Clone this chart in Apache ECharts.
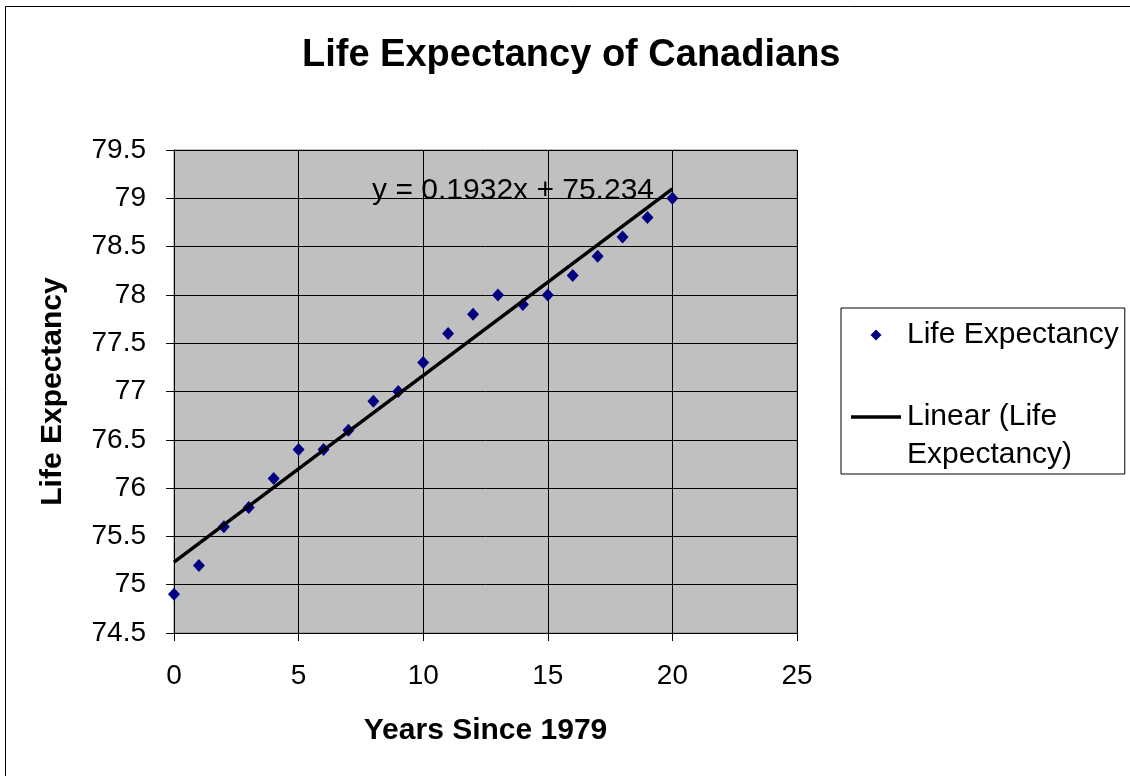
<!DOCTYPE html>
<html>
<head>
<meta charset="utf-8">
<script src="https://cdn.jsdelivr.net/npm/echarts@6/dist/echarts.min.js"></script>
<style>
html,body{margin:0;padding:0;background:#fff;}
#c{width:1130px;height:776px;}
</style>
</head>
<body>
<div id="c"></div>
<script>
// Data
const years = [0,1,2,3,4,5,6,7,8,9,10,11,12,13,14,15,16,17,18,19,20];
const lifeExpectancy = [74.9,75.2,75.6,75.8,76.1,76.4,76.4,76.6,76.9,77.0,77.3,77.6,77.8,78.0,77.9,78.0,78.2,78.4,78.6,78.8,79.0];
const trendSlope = 0.1932;
const trendIntercept = 75.234;
const trendRange = [0, 20];
const titleText = 'Life Expectancy of Canadians';
const xAxisTitle = 'Years Since 1979';
const yAxisTitle = 'Life Expectancy';
const seriesName = 'Life Expectancy';
const trendName = 'Linear (Life Expectancy)';
const equationText = 'y = 0.1932x + 75.234';
const equationAnchor = [7.95, 79.08];

const FONT = '"Liberation Sans", Arial, sans-serif';
const points = years.map((x, i) => [x, lifeExpectancy[i]]);
const trendPoints = trendRange.map(x => [x, trendSlope * x + trendIntercept]);

// legend icons: 50x12 boxes (degenerate end points keep the box size)
const diamondIcon = 'path://M0,6L0,6M19.5,6L25,0.5L30.5,6L25,11.5ZM50,6L50,6';
const lineIcon = 'path://M0,0L0,0M0,4.25L50,4.25L50,7.75L0,7.75ZM50,12L50,12';

const frame = {
  type: 'rect', silent: true, z: -10,
  shape: {x: 5.5, y: 6.5, width: 1300, height: 1000},
  style: {fill: 'none', stroke: '#000', lineWidth: 1}
};

const chart = echarts.init(document.getElementById('c'), null, {renderer: 'canvas'});
chart.setOption({
  animation: false,
  backgroundColor: '#ffffff',
  textStyle: {fontFamily: FONT},
  title: {
    text: titleText,
    left: 302, top: 37, padding: 0,
    textStyle: {fontFamily: FONT, fontSize: 38, fontWeight: 'bold', color: '#000'}
  },
  grid: {
    left: 174, top: 150, right: 333, bottom: 143,
    show: true, backgroundColor: '#c0c0c0', borderColor: '#808080', borderWidth: 1,
    containLabel: false
  },
  legend: {
    orient: 'vertical',
    left: 841, top: 308,
    padding: [8, 6, 0, 10],
    itemGap: 6,
    itemWidth: 50, itemHeight: 12,
    itemStyle: {borderWidth: 0},
    borderColor: '#000', borderWidth: 1,
    backgroundColor: '#fff',
    textStyle: {fontFamily: FONT, fontSize: 30, color: '#000', lineHeight: 38, padding: [0,0,0,1]},
    formatter: function (name) {
      return name === trendName ? '\nLinear (Life\nExpectancy)' : name;
    },
    data: [
      {name: seriesName, icon: diamondIcon},
      {name: trendName, icon: lineIcon}
    ]
  },
  xAxis: {
    type: 'value', min: 0, max: 25, interval: 5,
    name: xAxisTitle, nameLocation: 'middle', nameGap: 83,
    nameTextStyle: {fontFamily: FONT, fontSize: 30, fontWeight: 'bold', color: '#000'},
    axisLine: {show: true, onZero: false, lineStyle: {color: '#000', width: 1}},
    axisTick: {show: true, length: 8, lineStyle: {color: '#000'}},
    axisLabel: {margin: 29, fontFamily: FONT, fontSize: 28, color: '#000'},
    splitLine: {show: true, lineStyle: {color: '#000', width: 1}}
  },
  yAxis: {
    type: 'value', min: 74.5, max: 79.5, interval: 0.5,
    name: yAxisTitle, nameLocation: 'middle', nameGap: 106, nameRotate: 90,
    nameTextStyle: {fontFamily: FONT, fontSize: 30, fontWeight: 'bold', color: '#000'},
    axisLine: {show: true, onZero: false, lineStyle: {color: '#000', width: 1}},
    axisTick: {show: true, length: 8, lineStyle: {color: '#000'}},
    axisLabel: {margin: 28, fontFamily: FONT, fontSize: 28, color: '#000'},
    splitLine: {show: true, lineStyle: {color: '#000', width: 1}}
  },
  series: [
    {
      name: seriesName, type: 'scatter', data: points,
      symbol: 'diamond', symbolSize: [12, 13],
      itemStyle: {color: '#000080', opacity: 1},
      z: 2
    },
    {
      name: trendName, type: 'line', data: trendPoints,
      showSymbol: false, symbol: 'none',
      lineStyle: {color: '#000', width: 3.5},
      itemStyle: {color: '#000'},
      z: 3
    }
  ],
  graphic: [frame]
});

const eqPos = chart.convertToPixel({gridIndex: 0}, equationAnchor);
chart.setOption({
  graphic: [frame, {
    type: 'text', silent: true, z: 10,
    x: eqPos[0], y: eqPos[1],
    style: {text: equationText, font: '30px ' + FONT, fill: '#000', textAlign: 'left', textVerticalAlign: 'middle'}
  }]
});
</script>
</body>
</html>
